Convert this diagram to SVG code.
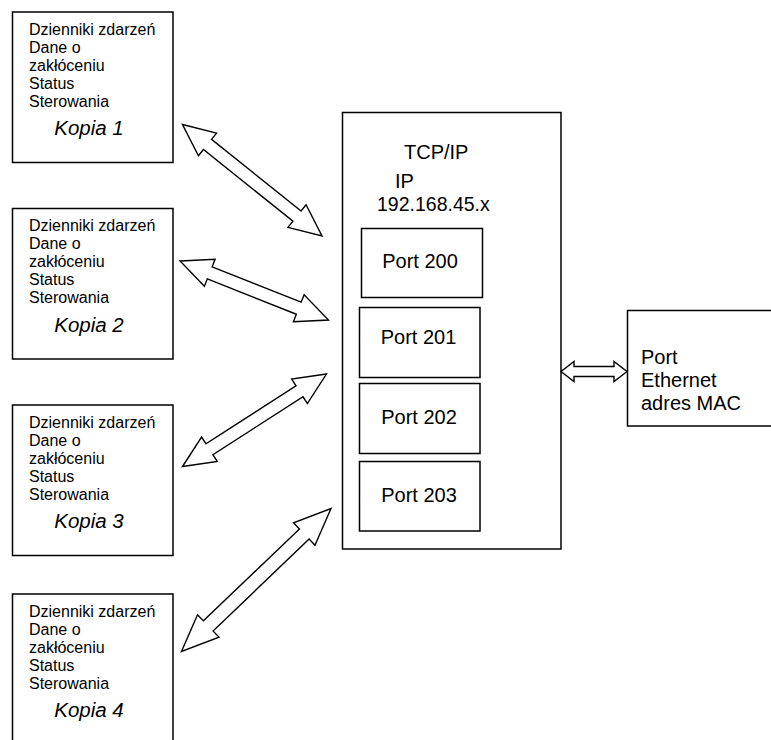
<svg xmlns="http://www.w3.org/2000/svg" width="771" height="740" viewBox="0 0 771 740">
<style>
rect{fill:#fff;stroke:#000;stroke-width:1.5}
.a{fill:#fff;stroke:#000;stroke-width:1.4;stroke-linejoin:miter}
text{font-family:"Liberation Sans",Arial,sans-serif;fill:#000}
.s{font-size:16px}
.k{font-size:20.5px;font-style:italic;text-anchor:middle}
.p{font-size:20px;text-anchor:middle}
.b{font-size:20px}
</style>
<rect x="0" y="0" width="771" height="740" style="stroke:none"/>
<g id="kopia1">
<rect x="12.5" y="12" width="160.5" height="150.5"/>
<text class="s" x="29" y="34.5">Dzienniki zdarzeń</text>
<text class="s" x="29" y="52.5">Dane o</text>
<text class="s" x="29" y="70.5">zakłóceniu</text>
<text class="s" x="29" y="88.5">Status</text>
<text class="s" x="29" y="106.5">Sterowania</text>
<text class="k" x="89" y="135">Kopia 1</text>
</g>
<g id="kopia2" transform="translate(0,196.5)">
<rect x="12.5" y="12" width="160.5" height="150.5"/>
<text class="s" x="29" y="34.5">Dzienniki zdarzeń</text>
<text class="s" x="29" y="52.5">Dane o</text>
<text class="s" x="29" y="70.5">zakłóceniu</text>
<text class="s" x="29" y="88.5">Status</text>
<text class="s" x="29" y="106.5">Sterowania</text>
<text class="k" x="89" y="135">Kopia 2</text>
</g>
<g id="kopia3" transform="translate(0,393)">
<rect x="12.5" y="12" width="160.5" height="150.5"/>
<text class="s" x="29" y="34.5">Dzienniki zdarzeń</text>
<text class="s" x="29" y="52.5">Dane o</text>
<text class="s" x="29" y="70.5">zakłóceniu</text>
<text class="s" x="29" y="88.5">Status</text>
<text class="s" x="29" y="106.5">Sterowania</text>
<text class="k" x="89" y="135">Kopia 3</text>
</g>
<g id="kopia4" transform="translate(0,582)">
<rect x="12.5" y="12" width="160.5" height="150.5"/>
<text class="s" x="29" y="34.5">Dzienniki zdarzeń</text>
<text class="s" x="29" y="52.5">Dane o</text>
<text class="s" x="29" y="70.5">zakłóceniu</text>
<text class="s" x="29" y="88.5">Status</text>
<text class="s" x="29" y="106.5">Sterowania</text>
<text class="k" x="89" y="135">Kopia 4</text>
</g>
<g id="tcpip">
<rect x="342.5" y="112.5" width="218.5" height="436.5"/>
<text class="b" x="404" y="158.5">TCP/IP</text>
<text class="b" x="395" y="187.5">IP</text>
<text class="b" x="377" y="211" style="font-size:19.5px">192.168.45.x</text>
</g>
<g id="port200">
<rect x="361.5" y="228.5" width="121" height="69"/>
<text class="p" x="420" y="268">Port 200</text>
</g>
<g id="port201">
<rect x="359.5" y="307.5" width="120.5" height="70"/>
<text class="p" x="418.5" y="344">Port 201</text>
</g>
<g id="port202">
<rect x="359.5" y="383.5" width="120.5" height="70"/>
<text class="p" x="419" y="424">Port 202</text>
</g>
<g id="port203">
<rect x="359.5" y="461.5" width="120.5" height="69.5"/>
<text class="p" x="419" y="502">Port 203</text>
</g>
<g id="ethernet">
<rect x="627.5" y="310.5" width="160" height="115.5"/>
<text class="b" x="641" y="363.5">Port</text>
<text class="b" x="641" y="386.5">Ethernet</text>
<text class="b" x="641" y="410">adres MAC</text>
</g>
<g id="connectors">
<path class="a" transform="translate(182.5,124.5) rotate(38.64)" d="M0,0 L32,-14.5 L32,-6.5 L146.6,-6.5 L146.6,-14.5 L178.6,0 L146.6,14.5 L146.6,6.5 L32,6.5 L32,14.5 Z"/>
<path class="a" transform="translate(180,261) rotate(21.67)" d="M0,0 L32,-14.5 L32,-6.5 L127.8,-6.5 L127.8,-14.5 L159.8,0 L127.8,14.5 L127.8,6.5 L32,6.5 L32,14.5 Z"/>
<path class="a" transform="translate(182.5,466.5) rotate(-32.72)" d="M0,0 L32,-14.5 L32,-6.5 L139.1,-6.5 L139.1,-14.5 L171.1,0 L139.1,14.5 L139.1,6.5 L32,6.5 L32,14.5 Z"/>
<path class="a" transform="translate(181.5,651.5) rotate(-43.73)" d="M0,0 L37,-15.5 L37,-7 L169.9,-7 L169.9,-15.5 L206.9,0 L169.9,15.5 L169.9,7 L37,7 L37,15.5 Z"/>
<path class="a" d="M561,371.5 L574,361.5 L574,366.5 L614,366.5 L614,361.5 L627,371.5 L614,381.5 L614,376.5 L574,376.5 L574,381.5 Z"/>
</g>
</svg>
